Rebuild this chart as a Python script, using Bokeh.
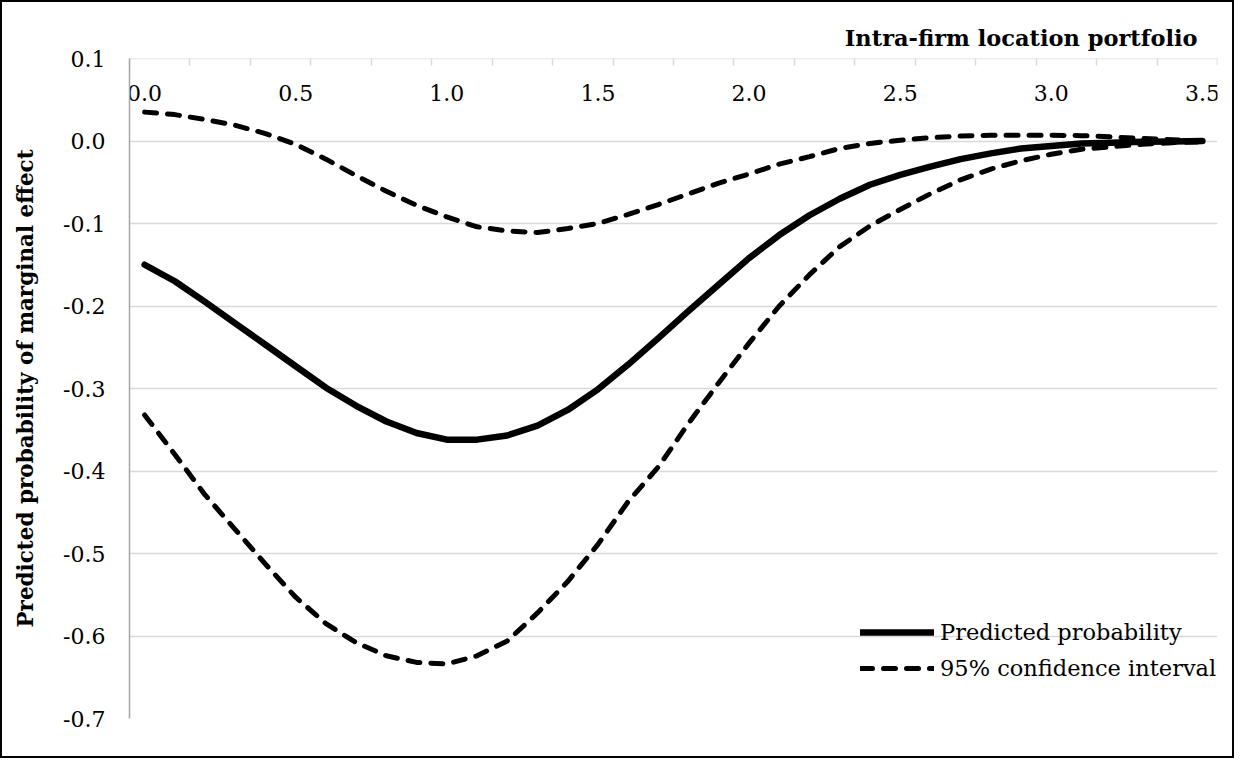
from bokeh.plotting import figure
from bokeh.models import (FixedTicker, PrintfTickFormatter, Legend, LegendItem,
                          Title, Range1d)
from bokeh.embed import file_html
from bokeh.resources import INLINE

FONT = "DejaVu Serif"

# Intra-firm location portfolio (category values)
portfolio = [0.0, 0.1, 0.2, 0.3, 0.4, 0.5, 0.6, 0.7, 0.8, 0.9,
             1.0, 1.1, 1.2, 1.3, 1.4, 1.5, 1.6, 1.7, 1.8, 1.9,
             2.0, 2.1, 2.2, 2.3, 2.4, 2.5, 2.6, 2.7, 2.8, 2.9,
             3.0, 3.1, 3.2, 3.3, 3.4, 3.5]

predicted = [-0.150, -0.170, -0.195, -0.221, -0.247, -0.273, -0.299, -0.321, -0.340, -0.354,
             -0.362, -0.362, -0.357, -0.345, -0.326, -0.301, -0.271, -0.239, -0.206, -0.174,
             -0.142, -0.114, -0.090, -0.070, -0.053, -0.041, -0.031, -0.022, -0.015, -0.009,
             -0.006, -0.003, -0.002, -0.001, -0.0005, 0.0]

ci_upper = [0.035, 0.032, 0.026, 0.019, 0.009, -0.004, -0.022, -0.042, -0.061, -0.078,
            -0.092, -0.104, -0.109, -0.111, -0.106, -0.100, -0.089, -0.077, -0.064, -0.051,
            -0.040, -0.028, -0.019, -0.009, -0.003, 0.001, 0.004, 0.006, 0.007, 0.007,
            0.007, 0.0065, 0.005, 0.003, 0.0015, 0.0]

ci_lower = [-0.332, -0.380, -0.429, -0.471, -0.513, -0.553, -0.585, -0.608, -0.624, -0.632,
            -0.634, -0.624, -0.606, -0.572, -0.534, -0.489, -0.437, -0.395, -0.342, -0.293,
            -0.245, -0.200, -0.162, -0.128, -0.103, -0.083, -0.064, -0.047, -0.034, -0.024,
            -0.016, -0.010, -0.007, -0.004, -0.002, -0.001]

x_tick_labels = [0.0, 0.5, 1.0, 1.5, 2.0, 2.5, 3.0, 3.5]
x_tick_marks = [-0.05, 0.15, 0.35, 0.55, 0.75, 0.95, 1.15, 1.35, 1.55, 1.75,
                1.95, 2.15, 2.35, 2.55, 2.75, 2.95, 3.15, 3.35, 3.55]
y_ticks = [-0.7, -0.6, -0.5, -0.4, -0.3, -0.2, -0.1, 0.0, 0.1]

p = figure(width=1234, height=758,
           x_range=Range1d(-0.05, 3.55), y_range=Range1d(-0.7, 0.1),
           output_backend="svg", toolbar_location=None,
           min_border_left=127, min_border_right=19,
           min_border_top=56, min_border_bottom=42)
p.styles = {"border": "2px solid #000000"}
p.outline_line_color = None
p.background_fill_color = "white"
p.border_fill_color = "white"

# x axis: crossing at the top (0.1), labels hanging inside the plot
xa = p.xaxis[0]
xa.fixed_location = 0.1
xa.ticker = FixedTicker(ticks=x_tick_labels, minor_ticks=x_tick_marks)
xa.formatter = PrintfTickFormatter(format="%.1f")
xa.axis_line_color = "#d9d9d9"
xa.axis_line_width = 1.5
xa.major_tick_line_color = None
xa.major_tick_out = 0
xa.major_tick_in = 0
xa.minor_tick_line_color = "#d9d9d9"
xa.minor_tick_line_width = 1.5
xa.minor_tick_out = 7
xa.minor_tick_in = 0
xa.major_label_standoff = 19
xa.major_label_text_font = FONT
xa.major_label_text_font_size = "22px"
xa.major_label_text_color = "black"

ya = p.yaxis[0]
ya.ticker = FixedTicker(ticks=y_ticks)
ya.formatter = PrintfTickFormatter(format="%.1f")
ya.axis_line_color = "#a6a6a6"
ya.axis_line_width = 1.5
ya.major_tick_line_color = None
ya.major_tick_out = 0
ya.minor_tick_line_color = None
ya.major_label_standoff = 24
ya.major_label_text_font = FONT
ya.major_label_text_font_size = "22px"
ya.major_label_text_color = "black"
ya.axis_label = "Predicted probability of marginal effect"
ya.axis_label_text_font = FONT
ya.axis_label_text_font_style = "bold"
ya.axis_label_text_font_size = "21.5px"
ya.axis_label_text_color = "black"
ya.axis_label_standoff = 22

p.xgrid.grid_line_color = None
p.ygrid.ticker = FixedTicker(ticks=y_ticks)
p.ygrid.grid_line_color = "#d9d9d9"
p.ygrid.grid_line_width = 1.5

p.add_layout(Title(text="Intra-firm location portfolio", align="right",
                   text_font=FONT, text_font_style="bold", text_font_size="22.5px",
                   text_color="black", offset=20, standoff=16), "above")

r_pred = p.line(portfolio, predicted, line_color="black", line_width=6.5,
                line_join="round", line_cap="round")
r_up = p.line(portfolio, ci_upper, line_color="black", line_width=5,
              line_dash="12 11", line_cap="round", line_join="round")
r_lo = p.line(portfolio, ci_lower, line_color="black", line_width=5,
              line_dash="12 11", line_cap="round", line_join="round")

legend = Legend(items=[LegendItem(label="Predicted probability", renderers=[r_pred]),
                       LegendItem(label="95% confidence interval", renderers=[r_up])],
                location=(731, 32), orientation="vertical",
                glyph_width=74, glyph_height=36, label_height=36, label_standoff=6,
                spacing=0, padding=0, margin=0,
                label_text_font=FONT, label_text_font_size="22.5px",
                label_text_color="black",
                border_line_color=None, background_fill_alpha=0)
p.add_layout(legend, "center")

open("out.html", "w").write(file_html(p, INLINE))
